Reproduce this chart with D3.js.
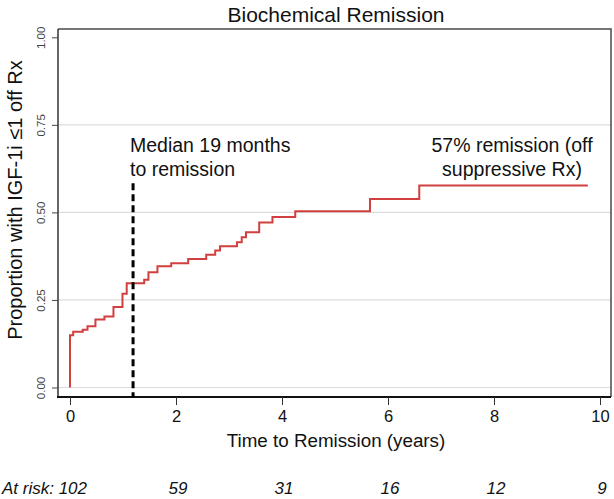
<!DOCTYPE html>
<html>
<head>
<meta charset="utf-8">
<script src="https://cdn.jsdelivr.net/npm/d3@7"></script>
<style>
  html, body { margin: 0; padding: 0; background: #fff; }
  svg { display: block; font-family: "Liberation Sans", Arial, Helvetica, sans-serif; }
</style>
</head>
<body>
<svg id="chart" width="614" height="499"></svg>
<script>
// ---- data ----
const stepTimes  = [0, 0, 0.06, 0.24, 0.33, 0.48, 0.65, 0.82, 0.99, 1.07, 1.40, 1.48, 1.65, 1.91, 2.23, 2.57, 2.74, 2.83, 3.15, 3.24, 3.32, 3.57, 3.82, 4.25, 5.66, 6.59, 9.77];
const stepValues = [0, 0.149, 0.159, 0.165, 0.175, 0.194, 0.203, 0.230, 0.268, 0.298, 0.308, 0.329, 0.346, 0.355, 0.367, 0.379, 0.391, 0.403, 0.415, 0.429, 0.443, 0.471, 0.487, 0.503, 0.538, 0.577, 0.577];
const xTicks = [0, 2, 4, 6, 8, 10];
const yTicks = [0, 0.25, 0.5, 0.75, 1];
const gridValues = [0, 0.25, 0.5, 0.75];
const atRisk = [102, 59, 31, 16, 12, 9];
const medianTime = 1.19;
const medianLineTop = 0.583;
const titleText = "Biochemical Remission";
const xTitle = "Time to Remission (years)";
const yTitle = "Proportion with IGF-1i \u22641 off Rx";
const noteLeft = ["Median 19 months", "to remission"];
const noteRight = ["57% remission (off", "suppressive Rx)"];

// ---- layout ----
const svg = d3.select("#chart");
const plotLeft = 58, plotRight = 611, plotTop = 29, plotBottom = 397;
const x = d3.scaleLinear().domain([0, 10]).range([70, 600]);
const y = d3.scaleLinear().domain([0, 1]).range([387.5, 37.3]);

// gridlines
svg.append("g").selectAll("line").data(gridValues).join("line")
  .attr("x1", plotLeft).attr("x2", plotRight)
  .attr("y1", d => y(d)).attr("y2", d => y(d))
  .attr("stroke", "#dcdcdc").attr("stroke-width", 1.2);

// frame (top/right)
svg.append("path")
  .attr("d", `M${plotLeft},${plotTop}H${plotRight}V${plotBottom}`)
  .attr("fill", "none").attr("stroke", "#4a4a4a").attr("stroke-width", 1.5);

// y axis
const yAxis = svg.append("g").attr("transform", `translate(${plotLeft},0)`)
  .call(d3.axisLeft(y).tickValues(yTicks).tickFormat(d3.format(".2f")).tickSize(6).tickPadding(4));
yAxis.select(".domain").attr("d", `M0,${plotTop}V${plotBottom}`).attr("stroke", "#333").attr("stroke-width", 1.5);
yAxis.selectAll(".tick line").attr("stroke", "#444");
yAxis.selectAll(".tick text")
  .attr("font-size", 11.5).attr("fill", "#444")
  .attr("text-anchor", "middle").attr("dy", "0")
  .attr("font-family", "Liberation Sans, Arial, sans-serif")
  .attr("x", 0).attr("y", 0)
  .attr("transform", "translate(-13,0) rotate(-90)");

// x axis
const xAxis = svg.append("g").attr("transform", `translate(0,${plotBottom})`)
  .call(d3.axisBottom(x).tickValues(xTicks).tickFormat(d3.format("d")).tickSize(8).tickPadding(5));
xAxis.select(".domain").attr("d", `M${plotLeft - 1},0H${plotRight}`).attr("stroke", "#111").attr("stroke-width", 2.2);
xAxis.selectAll(".tick line").attr("stroke", "#333");
xAxis.selectAll(".tick text").attr("font-size", 16.5).attr("fill", "#111")
  .attr("font-family", "Liberation Sans, Arial, sans-serif");

// step curve
const pts = stepTimes.map((t, i) => [t, stepValues[i]]);
const line = d3.line().x(d => x(d[0])).y(d => y(d[1])).curve(d3.curveStepAfter);
svg.append("path").datum(pts)
  .attr("d", line)
  .attr("fill", "none").attr("stroke", "#d23f3f").attr("stroke-width", 2);

// median dashed line
svg.append("line")
  .attr("x1", x(medianTime)).attr("x2", x(medianTime))
  .attr("y1", y(medianLineTop)).attr("y2", plotBottom)
  .attr("stroke", "#000").attr("stroke-width", 3).attr("stroke-dasharray", "7,4");

// annotations
svg.append("text").attr("x", 130).attr("y", 152)
  .attr("font-size", 19.5).attr("fill", "#111")
  .selectAll("tspan").data(noteLeft).join("tspan")
  .attr("x", 130).attr("dy", (d, i) => i === 0 ? 0 : 23.5).text(d => d);

svg.append("text").attr("x", 512).attr("y", 152)
  .attr("font-size", 19.5).attr("fill", "#111").attr("text-anchor", "middle")
  .selectAll("tspan").data(noteRight).join("tspan")
  .attr("x", 512).attr("dy", (d, i) => i === 0 ? 0 : 23.5).text(d => d);

// title
svg.append("text").attr("x", 336).attr("y", 22)
  .attr("text-anchor", "middle").attr("font-size", 21).attr("fill", "#111")
  .text(titleText);

// x title
svg.append("text").attr("x", 336).attr("y", 447)
  .attr("text-anchor", "middle").attr("font-size", 18.8).attr("fill", "#111")
  .text(xTitle);

// y title
svg.append("text")
  .attr("transform", `translate(22,200) rotate(-90)`)
  .attr("text-anchor", "middle").attr("font-size", 20).attr("fill", "#111")
  .text(yTitle);

// at risk row
svg.append("g").selectAll("text").data(atRisk).join("text")
  .attr("x", (d, i) => i === 0 ? 2 : x(xTicks[i]) + 2)
  .attr("y", 494)
  .attr("text-anchor", (d, i) => i === 0 ? "start" : "middle")
  .attr("font-size", 17).attr("font-style", "italic").attr("fill", "#111")
  .text((d, i) => i === 0 ? "At risk: " + d : d);
</script>
</body>
</html>
